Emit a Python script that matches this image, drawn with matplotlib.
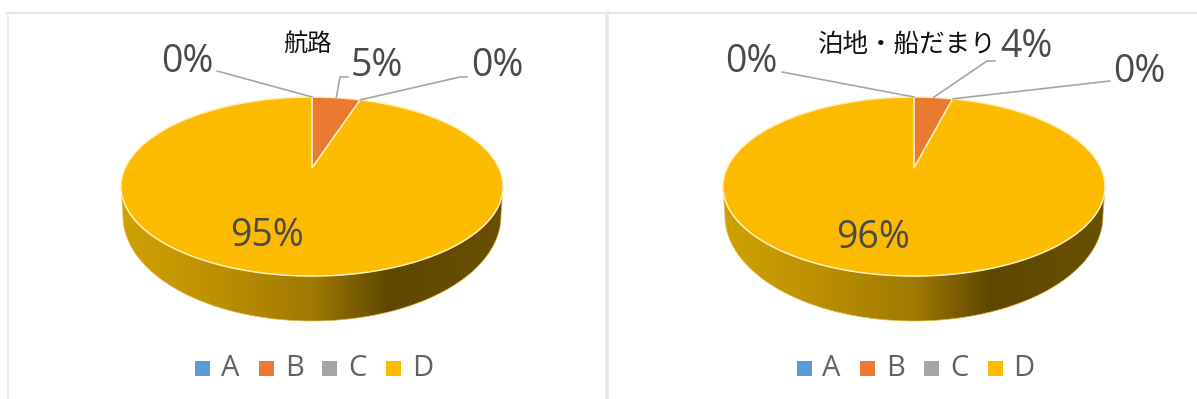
import numpy as np
import matplotlib
matplotlib.use('Agg')
import matplotlib.pyplot as plt
from matplotlib.colors import LinearSegmentedColormap
from matplotlib.patches import Polygon, Rectangle

plt.rcParams['font.family'] = ['Open Sans', 'Noto Sans CJK JP', 'DejaVu Sans']

categories = ['A', 'B', 'C', 'D']
colors = ['#5B9BD5', '#EA7A30', '#A5A5A5', '#FDBB00']
titles = ['航路', '泊地・船だまり']
values_left = [0, 5, 0, 95]
values_right = [0, 4, 0, 96]

# pie layout in pixels
centers_x = [312, 914]
apex_y = 168
focal = 186.9
height_scale = 85.7
tilt = 0.2068

side_cmap = LinearSegmentedColormap.from_list(
    'side', [(0, '#CFA200'), (0.2, '#C09400'), (0.5, '#A07A00'), (0.7, '#5E4700'), (1, '#6A5000')])


def rim(cx, theta):
    # theta in radians, clockwise from the top of the pie
    u = np.sin(theta)
    v = np.cos(theta)
    d = 1 + tilt * v
    return cx + focal * u / d, apex_y - height_scale * v / d


def draw_pie(ax, cx, values, title, title_pos, label_pos, elbows, legend_x):
    angles = np.radians(np.linspace(0, 360, 721))
    xs, ys = rim(cx, angles)

    # side wall, the lower edge is a deeper ellipse than the top rim
    i0, i1 = np.argmax(xs), np.argmin(xs)
    fx, fy = xs[i0:i1 + 1], ys[i0:i1 + 1]
    phi = np.radians(np.linspace(180, 0, 200))
    bx = cx + 189 * np.cos(phi)
    by = 216 + 105 * np.sin(phi)
    side = np.column_stack([np.r_[fx, bx], np.r_[fy, by]])
    patch = Polygon(side, closed=True, fc='none', ec='#E2BC48', lw=0.5, zorder=1.5)
    ax.add_patch(patch)
    grad = ax.imshow(np.linspace(0, 1, 256).reshape(1, -1), cmap=side_cmap, aspect='auto',
                     extent=[xs.min(), xs.max(), 321, ys.min()], zorder=1)
    grad.set_clip_path(patch)

    # top face
    total = sum(values)
    edges = np.cumsum([0] + values) / total * 2 * np.pi
    for k in range(len(values)):
        if values[k] == 0:
            continue
        t = np.linspace(edges[k], edges[k + 1], 300)
        px, py = rim(cx, t)
        pts = np.column_stack([np.r_[cx, px], np.r_[apex_y, py]])
        ax.add_patch(Polygon(pts, closed=True, fc=colors[k], ec='#FFEFC0', lw=1.1,
                             joinstyle='round', zorder=2))

    # labels with leader lines, the largest slice sits inside the face
    for k in range(len(values)):
        label = '%d%%' % values[k]
        lx, ly = label_pos[k]
        ax.text(lx, ly, label, fontsize=27, color='#4A4A4A', ha='center', va='center', zorder=4)
        if elbows[k] is None:
            continue
        ax_, ay_ = rim(cx, (edges[k] + edges[k + 1]) / 2)
        ex = [e[0] for e in elbows[k]] + [ax_]
        ey = [e[1] for e in elbows[k]] + [ay_]
        ax.plot(ex, ey, color='#A6A6A6', lw=1.2, zorder=3, solid_capstyle='round')

    ax.text(title_pos[0], title_pos[1], title, fontsize=title_pos[2], color='#111111',
            ha='center', va='center', family=['Noto Sans CJK JP', 'DejaVu Sans'], zorder=5)

    # legend
    for k, name in enumerate(categories):
        x = legend_x + k * 63.7
        ax.add_patch(Rectangle((x, 361), 15, 15, fc=colors[k], ec='none', zorder=2))
        ax.text(x + 26, 369, name, fontsize=21, color='#626262', ha='left', va='center')


fig = plt.figure(figsize=(11.97, 3.99), dpi=100, facecolor='white')
ax = fig.add_axes([0, 0, 1, 1])

draw_pie(ax, centers_x[0], values_left, titles[0], (307.5, 44, 17.5),
         [(187, 62), (377, 66), (497, 66), (267, 236)],
         [[(217, 71)], [(348, 77), (340, 77)], [(467, 77), (460, 77)], None], 195)
draw_pie(ax, centers_x[1], values_right, titles[1], (907.5, 45, 18.4),
         [(751, 62), (1026, 47), (1139, 72), (873, 238)],
         [[(782, 72)], [(995, 61), (987, 61)], [(1110, 81)], None], 796.5)

# chart frames
ax.plot([7, 1197], [13, 13], color='#E6E6E6', lw=1.6, zorder=0)
ax.plot([8, 8], [13, 399], color='#EDEDED', lw=1.6, zorder=0)
ax.plot([607, 607], [13, 399], color='#E8E8E8', lw=2.6, zorder=0)

ax.set_xlim(0, 1197)
ax.set_ylim(399, 0)
ax.axis('off')

fig.savefig('out.png', dpi=100, facecolor='white')
